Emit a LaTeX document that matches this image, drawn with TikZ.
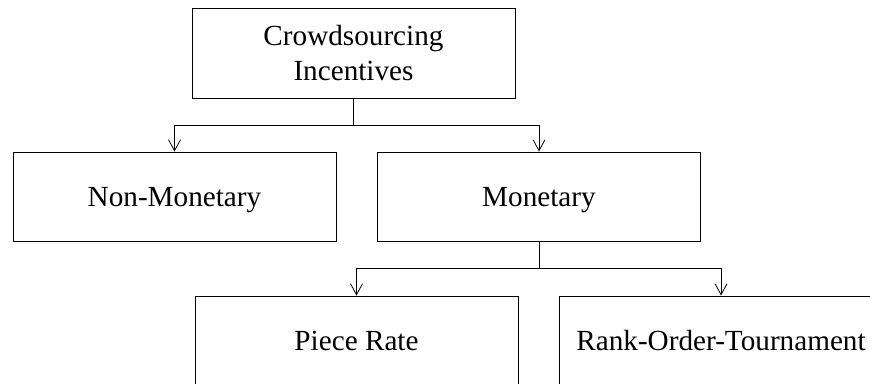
\documentclass[tikz,border=0pt]{standalone}
\usepackage{fontspec}
\setmainfont{Liberation Serif}
\usetikzlibrary{arrows.meta}
\begin{document}
\begin{tikzpicture}[x=1pt,y=-1pt,
  box/.style={draw, line width=0.9pt, minimum width=323pt, minimum height=89pt, align=center, inner sep=0pt, font=\fontsize{29.2}{35}\selectfont},
  leaf/.style={box, text height=19pt, text depth=0pt},
  arr/.style={-{Straight Barb[length=11pt,width=12pt]}, line width=0.8pt}]
\useasboundingbox (0,0) rectangle (870,383);
\clip (0,0) rectangle (870,383);
\node[box, minimum height=90pt] (root) at (353.5,53) {Crowdsourcing\\Incentives};
\node[leaf] (nonm) at (174.5,196.5) {Non-Monetary};
\node[leaf] (mon) at (539,196.5) {Monetary};
\node[leaf] (piece) at (356.5,340.5) {Piece Rate};
\node[leaf] (rank) at (721,340.5) {Rank-Order-Tournament};
\coordinate (j1) at (353.5,125);
\coordinate (j2) at (539,268);
\draw[line width=0.8pt] (root.south) -- (j1);
\draw[arr] (j1) -| (nonm.north);
\draw[arr] (j1) -| (mon.north);
\draw[line width=0.8pt] (mon.south) -- (j2);
\draw[arr] (j2) -| (piece.north);
\draw[arr] (j2) -| (rank.north);
\end{tikzpicture}
\end{document}
